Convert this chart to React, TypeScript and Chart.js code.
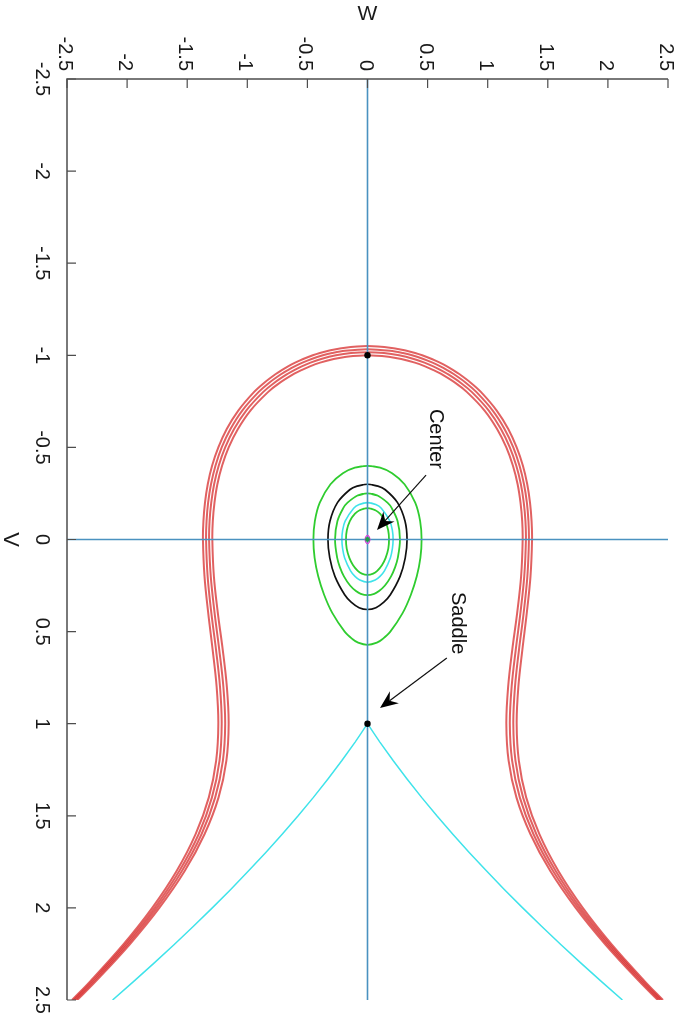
import React, { useEffect, useRef } from "react";
import { Chart, registerables } from "chart.js";

Chart.register(...registerables);

// ---------- axes ----------
const AXIS_MIN = -2.5;
const AXIS_MAX = 2.5;
const TICK_VALUES = [-2.5, -2, -1.5, -1, -0.5, 0, 0.5, 1, 1.5, 2, 2.5];
const TICK_LABELS = ["-2.5", "-2", "-1.5", "-1", "-0.5", "0", "0.5", "1", "1.5", "2", "2.5"];
const X_TITLE = "V";
const Y_TITLE = "W";

// ---------- equilibria (W, V) ----------
const EQ_W = [0, 0];
const EQ_V = [-1, 1];
const CENTER_W = [0];
const CENTER_V = [0];

// ---------- red band (V from top, half-width W) ----------
const RED1_V = [-1.0, -0.99, -0.98, -0.96, -0.94, -0.92, -0.9, -0.85, -0.8, -0.7, -0.6, -0.5, -0.4, -0.3, -0.2, -0.1, 0, 0.2, 0.4, 0.6, 0.8, 1.0, 1.2, 1.4, 1.6, 1.8, 2.0, 2.2, 2.4, 2.5];
const RED1_W = [0, 0.199, 0.281, 0.394, 0.479, 0.549, 0.609, 0.731, 0.828, 0.974, 1.078, 1.155, 1.21, 1.249, 1.273, 1.287, 1.291, 1.278, 1.245, 1.204, 1.17, 1.155, 1.174, 1.239, 1.356, 1.521, 1.732, 1.981, 2.263, 2.415];

const RED2_V = [-1.0171, -1.0125, -1.0, -0.98, -0.96, -0.94, -0.92, -0.9, -0.85, -0.8, -0.7, -0.6, -0.5, -0.4, -0.3, -0.2, -0.1, 0, 0.2, 0.4, 0.6, 0.8, 1.0, 1.2, 1.4, 1.6, 1.8, 2.0, 2.2, 2.4, 2.5];
const RED2_W = [0, 0.137, 0.263, 0.385, 0.474, 0.547, 0.609, 0.663, 0.777, 0.869, 1.009, 1.11, 1.184, 1.238, 1.276, 1.3, 1.314, 1.318, 1.304, 1.272, 1.233, 1.199, 1.184, 1.203, 1.267, 1.381, 1.544, 1.752, 1.999, 2.279, 2.43];

const RED3_V = [-1.0335, -1.025, -1.0125, -1.0, -0.98, -0.96, -0.94, -0.92, -0.9, -0.85, -0.8, -0.7, -0.6, -0.5, -0.4, -0.3, -0.2, -0.1, 0, 0.2, 0.4, 0.6, 0.8, 1.0, 1.2, 1.4, 1.6, 1.8, 2.0, 2.2, 2.4, 2.5];
const RED3_W = [0, 0.188, 0.295, 0.371, 0.465, 0.541, 0.606, 0.662, 0.713, 0.82, 0.907, 1.042, 1.14, 1.213, 1.265, 1.302, 1.326, 1.339, 1.343, 1.33, 1.299, 1.26, 1.227, 1.213, 1.231, 1.294, 1.405, 1.566, 1.771, 2.016, 2.294, 2.444];

const RED4_V = [-1.05, -1.0375, -1.025, -1.0125, -1.0, -0.98, -0.96, -0.94, -0.92, -0.9, -0.85, -0.8, -0.7, -0.6, -0.5, -0.4, -0.3, -0.2, -0.1, 0, 0.2, 0.4, 0.6, 0.8, 1.0, 1.2, 1.4, 1.6, 1.8, 2.0, 2.2, 2.4, 2.5];
const RED4_W = [0, 0.23, 0.325, 0.396, 0.455, 0.535, 0.602, 0.661, 0.713, 0.76, 0.861, 0.945, 1.075, 1.171, 1.241, 1.293, 1.329, 1.352, 1.365, 1.369, 1.356, 1.325, 1.288, 1.255, 1.241, 1.259, 1.32, 1.43, 1.588, 1.791, 2.033, 2.309, 2.458];

// ---------- cyan separatrix branches from the saddle ----------
const SEP_V = [1.0, 1.05, 1.1, 1.2, 1.3, 1.4, 1.5, 1.6, 1.7, 1.8, 1.9, 2.0, 2.1, 2.2, 2.3, 2.4, 2.5];
const SEP_W = [0, 0.051, 0.103, 0.213, 0.329, 0.45, 0.577, 0.71, 0.848, 0.991, 1.138, 1.291, 1.448, 1.61, 1.776, 1.947, 2.121];

// ---------- closed orbits around the center (V from top to bottom, half-width W) ----------
const GREEN_OUT_V = [-0.4, -0.39, -0.36, -0.3, -0.2, -0.1, 0, 0.1, 0.2, 0.3, 0.4, 0.5, 0.54, 0.56, 0.572];
const GREEN_OUT_W = [0, 0.105, 0.205, 0.308, 0.397, 0.438, 0.45, 0.44, 0.41, 0.361, 0.292, 0.19, 0.126, 0.078, 0];

const BLACK_V = [-0.3, -0.29, -0.27, -0.2, -0.1, 0, 0.1, 0.2, 0.3, 0.34, 0.37, 0.38];
const BLACK_W = [0, 0.087, 0.148, 0.25, 0.312, 0.329, 0.314, 0.271, 0.19, 0.136, 0.07, 0];

const GREEN_MID_V = [-0.25, -0.24, -0.2, -0.17, -0.1, 0, 0.1, 0.15, 0.2, 0.25, 0.28, 0.295, 0.302];
const GREEN_MID_W = [0, 0.079, 0.166, 0.202, 0.25, 0.27, 0.252, 0.23, 0.196, 0.145, 0.096, 0.056, 0];

const CYAN_LOOP_V = [-0.2, -0.19, -0.17, -0.1, -0.05, 0, 0.05, 0.1, 0.17, 0.2, 0.22, 0.232];
const CYAN_LOOP_W = [0, 0.069, 0.115, 0.186, 0.207, 0.213, 0.207, 0.19, 0.141, 0.104, 0.064, 0];

const GREEN_IN_V = [-0.17, -0.16, -0.14, -0.1, -0.05, 0, 0.05, 0.1, 0.14, 0.17, 0.185, 0.192];
const GREEN_IN_W = [0, 0.062, 0.104, 0.147, 0.172, 0.179, 0.173, 0.151, 0.12, 0.081, 0.047, 0];

const MAGENTA_V = [-0.022, -0.015, 0, 0.015, 0.022];
const MAGENTA_W = [0, 0.014, 0.02, 0.014, 0];

// ---------- annotations ----------
const ANNOT_TEXT = ["Center", "Saddle"];
const ANNOT_TEXT_W = [0.52, 0.705];
const ANNOT_TEXT_V = [-0.709, 0.285];
const ARROW_FROM_W = [0.487, 0.66];
const ARROW_FROM_V = [-0.35, 0.643];
const ARROW_TO_W = [0.079, 0.104];
const ARROW_TO_V = [-0.052, 0.915];

type P = { x: number; y: number };

function openCurve(V: number[], W: number[]): P[] {
  const pts: P[] = [];
  for (let i = V.length - 1; i >= 1; i--) pts.push({ x: -W[i], y: V[i] });
  pts.push({ x: W[0], y: V[0] });
  for (let i = 1; i < V.length; i++) pts.push({ x: W[i], y: V[i] });
  return pts;
}

function closedLoop(V: number[], W: number[]): P[] {
  const n = V.length;
  const pts: P[] = [];
  pts.push({ x: -W[1], y: V[1] });
  for (let i = 0; i < n; i++) pts.push({ x: W[i], y: V[i] });
  for (let i = n - 2; i >= 0; i--) pts.push({ x: -W[i], y: V[i] });
  pts.push({ x: W[1], y: V[1] });
  return pts;
}

function pairs(W: number[], V: number[]): P[] {
  return W.map((w, i) => ({ x: w, y: V[i] }));
}

const FONT = '"Liberation Sans", Arial, Helvetica, sans-serif';

const decorPlugin = {
  id: "decor",
  afterDraw(chart: any) {
    const ctx = chart.ctx as CanvasRenderingContext2D;
    const xs = chart.scales.x;
    const ys = chart.scales.y;
    const area = chart.chartArea;
    const px = (w: number) => xs.getPixelForValue(w);
    const py = (v: number) => ys.getPixelForValue(v);

    ctx.save();
    // axis lines (top and left)
    ctx.strokeStyle = "#4d4d4d";
    ctx.lineWidth = 1.5;
    ctx.beginPath();
    ctx.moveTo(area.left, area.bottom);
    ctx.lineTo(area.left, area.top);
    ctx.lineTo(area.right, area.top);
    ctx.stroke();

    // ticks
    ctx.lineWidth = 1.2;
    ctx.beginPath();
    TICK_VALUES.forEach((t) => {
      const x = px(t);
      ctx.moveTo(x, area.top);
      ctx.lineTo(x, area.top + 9);
      const y = py(t);
      ctx.moveTo(area.left, y);
      ctx.lineTo(area.left + 9, y);
    });
    ctx.stroke();

    // tick labels (rotated like the reference)
    ctx.fillStyle = "#1a1a1a";
    ctx.font = `20px ${FONT}`;
    TICK_VALUES.forEach((t, i) => {
      ctx.save();
      ctx.translate(px(t) - 8, area.top - 8);
      ctx.rotate(Math.PI / 2);
      ctx.textAlign = "right";
      ctx.textBaseline = "alphabetic";
      ctx.fillText(TICK_LABELS[i], 0, 0);
      ctx.restore();
      ctx.save();
      ctx.translate(36, py(t));
      ctx.rotate(Math.PI / 2);
      ctx.textAlign = "center";
      ctx.textBaseline = "alphabetic";
      ctx.fillText(TICK_LABELS[i], 0, 0);
      ctx.restore();
    });

    // axis titles
    ctx.font = `21px ${FONT}`;
    ctx.textAlign = "center";
    ctx.textBaseline = "alphabetic";
    ctx.fillText(Y_TITLE, px(0), 20);
    ctx.save();
    ctx.font = `22px ${FONT}`;
    ctx.translate(3.5, py(0));
    ctx.rotate(Math.PI / 2);
    ctx.fillText(X_TITLE, 0, 0);
    ctx.restore();

    // annotations
    ctx.font = `20px ${FONT}`;
    ANNOT_TEXT.forEach((txt, i) => {
      ctx.save();
      ctx.translate(px(ANNOT_TEXT_W[i]), py(ANNOT_TEXT_V[i]));
      ctx.rotate(Math.PI / 2);
      ctx.textAlign = "left";
      ctx.textBaseline = "alphabetic";
      ctx.fillStyle = "#111";
      ctx.fillText(txt, 0, 0);
      ctx.restore();

      const x0 = px(ARROW_FROM_W[i]);
      const y0 = py(ARROW_FROM_V[i]);
      const x1 = px(ARROW_TO_W[i]);
      const y1 = py(ARROW_TO_V[i]);
      const ang = Math.atan2(y1 - y0, x1 - x0);
      const L = 18;
      const H = 7.5;
      const N = 12;
      const ux = Math.cos(ang);
      const uy = Math.sin(ang);
      const nx = -uy;
      const ny = ux;
      ctx.strokeStyle = "#111";
      ctx.lineWidth = 1.2;
      ctx.beginPath();
      ctx.moveTo(x0, y0);
      ctx.lineTo(x1 - ux * N, y1 - uy * N);
      ctx.stroke();
      ctx.fillStyle = "#000";
      ctx.beginPath();
      ctx.moveTo(x1, y1);
      ctx.lineTo(x1 - ux * L + nx * H, y1 - uy * L + ny * H);
      ctx.lineTo(x1 - ux * N, y1 - uy * N);
      ctx.lineTo(x1 - ux * L - nx * H, y1 - uy * L - ny * H);
      ctx.closePath();
      ctx.fill();
    });
    ctx.restore();
  },
};

export default function App() {
  const ref = useRef<HTMLCanvasElement | null>(null);

  useEffect(() => {
    if (!ref.current) return;
    const RED = "rgba(214, 36, 36, 0.72)";
    const GREEN = "#2fcc2f";
    const CYAN = "#3fe3ea";
    const line = (data: P[], color: string, width: number, tension = 0.35) => ({
      data,
      showLine: true,
      borderColor: color,
      borderWidth: width,
      pointRadius: 0,
      pointHoverRadius: 0,
      tension,
      fill: false,
    });

    const datasets: any[] = [
      {
        data: pairs(EQ_W, EQ_V),
        showLine: false,
        pointRadius: 3.2,
        pointBackgroundColor: "#000",
        pointBorderColor: "#000",
        pointBorderWidth: 0,
      },
      {
        data: pairs(CENTER_W, CENTER_V),
        showLine: false,
        pointRadius: 2.4,
        pointBackgroundColor: "#1f9e4a",
        pointBorderColor: "#1f9e4a",
        pointBorderWidth: 0,
      },
      line(closedLoop(MAGENTA_V, MAGENTA_W), "#d63fd6", 1.2, 0.4),
      line(
        [
          { x: 0, y: AXIS_MIN },
          { x: 0, y: AXIS_MAX },
        ],
        "#4a92c0",
        1.6,
        0
      ),
      line(
        [
          { x: AXIS_MIN, y: 0 },
          { x: AXIS_MAX, y: 0 },
        ],
        "#4a92c0",
        1.6,
        0
      ),
      line(closedLoop(GREEN_IN_V, GREEN_IN_W), GREEN, 1.8),
      line(closedLoop(CYAN_LOOP_V, CYAN_LOOP_W), CYAN, 1.6),
      line(closedLoop(GREEN_MID_V, GREEN_MID_W), GREEN, 1.8),
      line(closedLoop(BLACK_V, BLACK_W), "#111", 1.7),
      line(closedLoop(GREEN_OUT_V, GREEN_OUT_W), GREEN, 1.8),
      line(openCurve(SEP_V, SEP_W), CYAN, 1.5, 0),
      line(openCurve(RED1_V, RED1_W), RED, 2),
      line(openCurve(RED2_V, RED2_W), RED, 2),
      line(openCurve(RED3_V, RED3_W), RED, 2),
      line(openCurve(RED4_V, RED4_W), RED, 2),
    ];

    const chart = new Chart(ref.current, {
      type: "scatter",
      data: { datasets },
      options: {
        animation: false,
        responsive: false,
        devicePixelRatio: 1,
        events: [],
        layout: { padding: { left: 67, right: 17, top: 79, bottom: 19 } },
        plugins: { legend: { display: false }, tooltip: { enabled: false } },
        scales: {
          x: { type: "linear", min: AXIS_MIN, max: AXIS_MAX, display: false },
          y: { type: "linear", min: AXIS_MIN, max: AXIS_MAX, reverse: true, display: false },
        },
      },
      plugins: [decorPlugin],
    } as any);
    return () => chart.destroy();
  }, []);

  return (
    <div style={{ position: "absolute", left: 0, top: 0, width: 685, height: 1019, background: "#fff" }}>
      <canvas ref={ref} width={685} height={1019} style={{ display: "block" }} />
    </div>
  );
}
